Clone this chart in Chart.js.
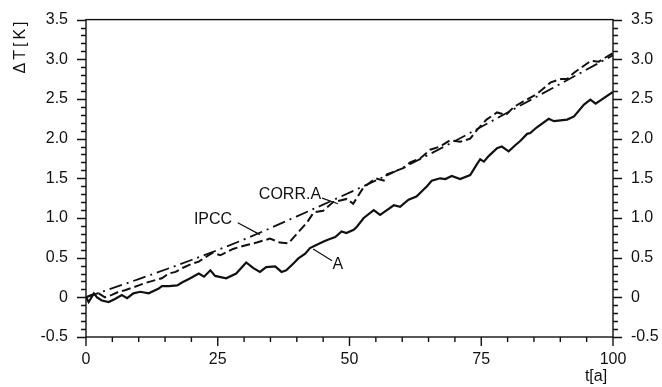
<!DOCTYPE html>
<html>
<head>
<meta charset="utf-8">
<title>ΔT</title>
<script src="https://cdn.jsdelivr.net/npm/chart.js@4.4.1/dist/chart.umd.min.js"></script>
<style>
  html, body { margin: 0; padding: 0; background: #fff; }
  #wrap { width: 662px; height: 387px; }
</style>
</head>
<body>
<div id="wrap"><canvas id="chart" width="662" height="387"></canvas></div>
<script>
// tick labels
const xTickLabels = [0, 25, 50, 75, 100];
const yTickLabels = [-0.5, 0, 0.5, 1.0, 1.5, 2.0, 2.5, 3.0, 3.5];

// series A (solid)
const aYears = [0, 0.5, 1.5, 2.1, 3, 4.3, 5.5, 6.8, 7.8, 9, 10.3, 11.9, 13.8, 14.4, 15.7, 17.3, 18.3, 19.8,
  21.4, 22.4, 23.6, 24.5, 26.6, 28.5, 30.4, 31.7, 33, 34.2, 35.9, 37.1, 38, 39.4, 40.3, 41.6, 42.5, 43.7,
  45, 46, 47.3, 48.5, 49.4, 50.8, 51.4, 52.7, 54.6, 55.8, 57.1, 58.4, 59.6, 61.2, 62.7, 64.7, 65.6, 67.2,
  68.2, 69.4, 71, 72.9, 74.1, 74.8, 75.5, 76.4, 78, 78.9, 80.2, 81.5, 82.4, 83.7, 84.3, 85.5, 87.8, 88.8,
  91.3, 92.6, 94.5, 95.7, 96.7, 100];
const aValues = [0, -0.06, 0.05, 0, -0.04, -0.06, -0.02, 0.03, -0.01, 0.05, 0.07, 0.05, 0.11, 0.14, 0.14, 0.15, 0.19, 0.24,
  0.3, 0.26, 0.34, 0.27, 0.24, 0.3, 0.44, 0.37, 0.32, 0.38, 0.39, 0.32, 0.34, 0.43, 0.49, 0.55, 0.62, 0.66,
  0.7, 0.73, 0.76, 0.83, 0.81, 0.85, 0.89, 1.0, 1.1, 1.04, 1.1, 1.16, 1.14, 1.23, 1.27, 1.4, 1.47, 1.5,
  1.49, 1.53, 1.49, 1.54, 1.67, 1.74, 1.71, 1.78, 1.88, 1.9, 1.84, 1.92, 1.97, 2.06, 2.07, 2.14, 2.25, 2.22,
  2.24, 2.28, 2.43, 2.49, 2.44, 2.59];

// series CORR.A (dashed)
const corrYears = [0, 1, 2.4, 3.6, 4.9, 6.2, 7.4, 8.7, 10, 11.2, 12.8, 14.4, 15.7, 17, 18.3, 20, 21.4, 23, 24,
  25.5, 27.9, 30.5, 32.4, 34.9, 36.8, 38.4, 40, 41.9, 43.2, 45, 46.9, 49.5, 50.7, 52.6, 54.9, 56.5, 57.1,
  60.3, 61.5, 63.4, 65.3, 67.2, 69.1, 71, 72.9, 74.2, 76, 78, 79.7, 81.2, 83, 85.5, 88.2, 90.1, 91.3, 92.6,
  95.8, 97.3, 100];
const corrValues = [0, 0.03, 0.05, 0, 0.03, 0.07, 0.09, 0.12, 0.15, 0.18, 0.21, 0.24, 0.3, 0.32, 0.37, 0.42, 0.45, 0.52, 0.56,
  0.53, 0.61, 0.66, 0.69, 0.74, 0.69, 0.68, 0.8, 0.94, 1.07, 1.09, 1.2, 1.24, 1.18, 1.38, 1.5, 1.47, 1.55,
  1.63, 1.7, 1.75, 1.86, 1.9, 1.98, 1.96, 2.0, 2.11, 2.24, 2.33, 2.3, 2.4, 2.47, 2.56, 2.71, 2.75, 2.75, 2.83,
  2.98, 2.97, 3.08];

// series IPCC (dash-dot)
const ipccYears = [0, 10, 20, 30, 40, 50, 60, 70, 80, 90, 100];
const ipccValues = [0, 0.23, 0.47, 0.73, 1.02, 1.32, 1.63, 1.97, 2.33, 2.69, 3.05];

// curve labels with their leader lines (data units)
const curveNames = ['CORR.A', 'IPCC', 'A'];
const nameAt = [[38.7, 1.29], [24.1, 0.98], [47.8, 0.41]];
const leaderFrom = [[44.8, 1.25], [28.8, 0.94], [43.1, 0.61]];
const leaderTo = [[47.8, 1.18], [33.0, 0.79], [46.7, 0.46]];

const INK = '#111';
const FONT = "'Liberation Sans', Arial, sans-serif";

const toPoints = (xs, ys) => xs.map((x, i) => ({ x: x, y: ys[i] }));

const frame = {
  id: 'frame',
  afterDraw(chart) {
    const { ctx, chartArea: a, scales } = chart;
    const x = scales.x, y = scales.y;
    ctx.save();
    ctx.strokeStyle = INK;
    ctx.lineWidth = 1.4;
    ctx.strokeRect(a.left, a.top, a.right - a.left, a.bottom - a.top);

    ctx.beginPath();
    // bottom ticks, every 5 years
    for (let t = 0; t <= 100; t += 5) {
      const px = x.getPixelForValue(t);
      const len = t % 25 === 0 ? 9 : 5;
      ctx.moveTo(px, a.bottom);
      ctx.lineTo(px, a.bottom + len);
    }
    // left and right ticks, every 0.1 K
    for (let i = -5; i <= 35; i++) {
      const py = Math.round(y.getPixelForValue(i / 10)) + 0.5;
      const len = i % 5 === 0 ? 9 : 5;
      ctx.moveTo(a.left, py);
      ctx.lineTo(a.left - len, py);
      ctx.moveTo(a.right, py);
      ctx.lineTo(a.right + len, py);
    }
    ctx.stroke();

    // leader lines
    ctx.lineWidth = 1.2;
    ctx.beginPath();
    leaderFrom.forEach((p, i) => {
      ctx.moveTo(x.getPixelForValue(p[0]), y.getPixelForValue(p[1]));
      ctx.lineTo(x.getPixelForValue(leaderTo[i][0]), y.getPixelForValue(leaderTo[i][1]));
    });
    ctx.stroke();

    ctx.fillStyle = INK;
    ctx.font = '16px ' + FONT;
    ctx.textAlign = 'center';
    ctx.textBaseline = 'middle';
    curveNames.forEach((name, i) => {
      ctx.fillText(name, x.getPixelForValue(nameAt[i][0]), y.getPixelForValue(nameAt[i][1]));
    });

    // axis titles
    ctx.fillText('t[a]', 596, 377);
    ctx.translate(21, 46);
    ctx.rotate(-Math.PI / 2);
    ctx.letterSpacing = '3px';
    ctx.fillText('ΔT[K]', 0, 0);
    ctx.restore();
  }
};

const fixSize = (w, h) => (scale) => {
  if (w !== null) scale.width = w;
  if (h !== null) scale.height = h;
};

const yLabel = (v) => (v === 0 ? '0' : v.toFixed(1));

const yScale = (position, width) => ({
  type: 'linear',
  position: position,
  min: -0.5,
  max: 3.5,
  afterBuildTicks: (s) => { s.ticks = yTickLabels.map((v) => ({ value: v })); },
  afterFit: fixSize(width, null),
  border: { display: false },
  grid: { display: false },
  ticks: {
    color: INK,
    padding: 10,
    font: { family: FONT, size: 16 },
    callback: yLabel
  }
});

new Chart(document.getElementById('chart'), {
  type: 'line',
  data: {
    datasets: [
      {
        label: 'IPCC',
        data: toPoints(ipccYears, ipccValues),
        borderColor: INK,
        borderWidth: 1.8,
        borderDash: [13, 5, 2, 5],
        cubicInterpolationMode: 'monotone',
        pointRadius: 0
      },
      {
        label: 'CORR.A',
        data: toPoints(corrYears, corrValues),
        borderColor: INK,
        borderWidth: 2,
        borderDash: [9, 4],
        pointRadius: 0
      },
      {
        label: 'A',
        data: toPoints(aYears, aValues),
        borderColor: INK,
        borderWidth: 2.2,
        pointRadius: 0
      }
    ]
  },
  options: {
    responsive: false,
    animation: false,
    devicePixelRatio: 1,
    layout: { padding: { top: 18, left: 0, right: 0, bottom: 0 } },
    plugins: { legend: { display: false }, tooltip: { enabled: false } },
    scales: {
      x: {
        type: 'linear',
        min: 0,
        max: 100,
        afterBuildTicks: (s) => { s.ticks = xTickLabels.map((v) => ({ value: v })); },
        afterFit: fixSize(null, 50),
        border: { display: false },
        grid: { display: false },
        ticks: {
          color: INK,
          padding: 5,
          maxRotation: 0,
          font: { family: FONT, size: 16 }
        }
      },
      y: yScale('left', 86),
      y2: yScale('right', 49)
    }
  },
  plugins: [frame]
});
</script>
</body>
</html>
